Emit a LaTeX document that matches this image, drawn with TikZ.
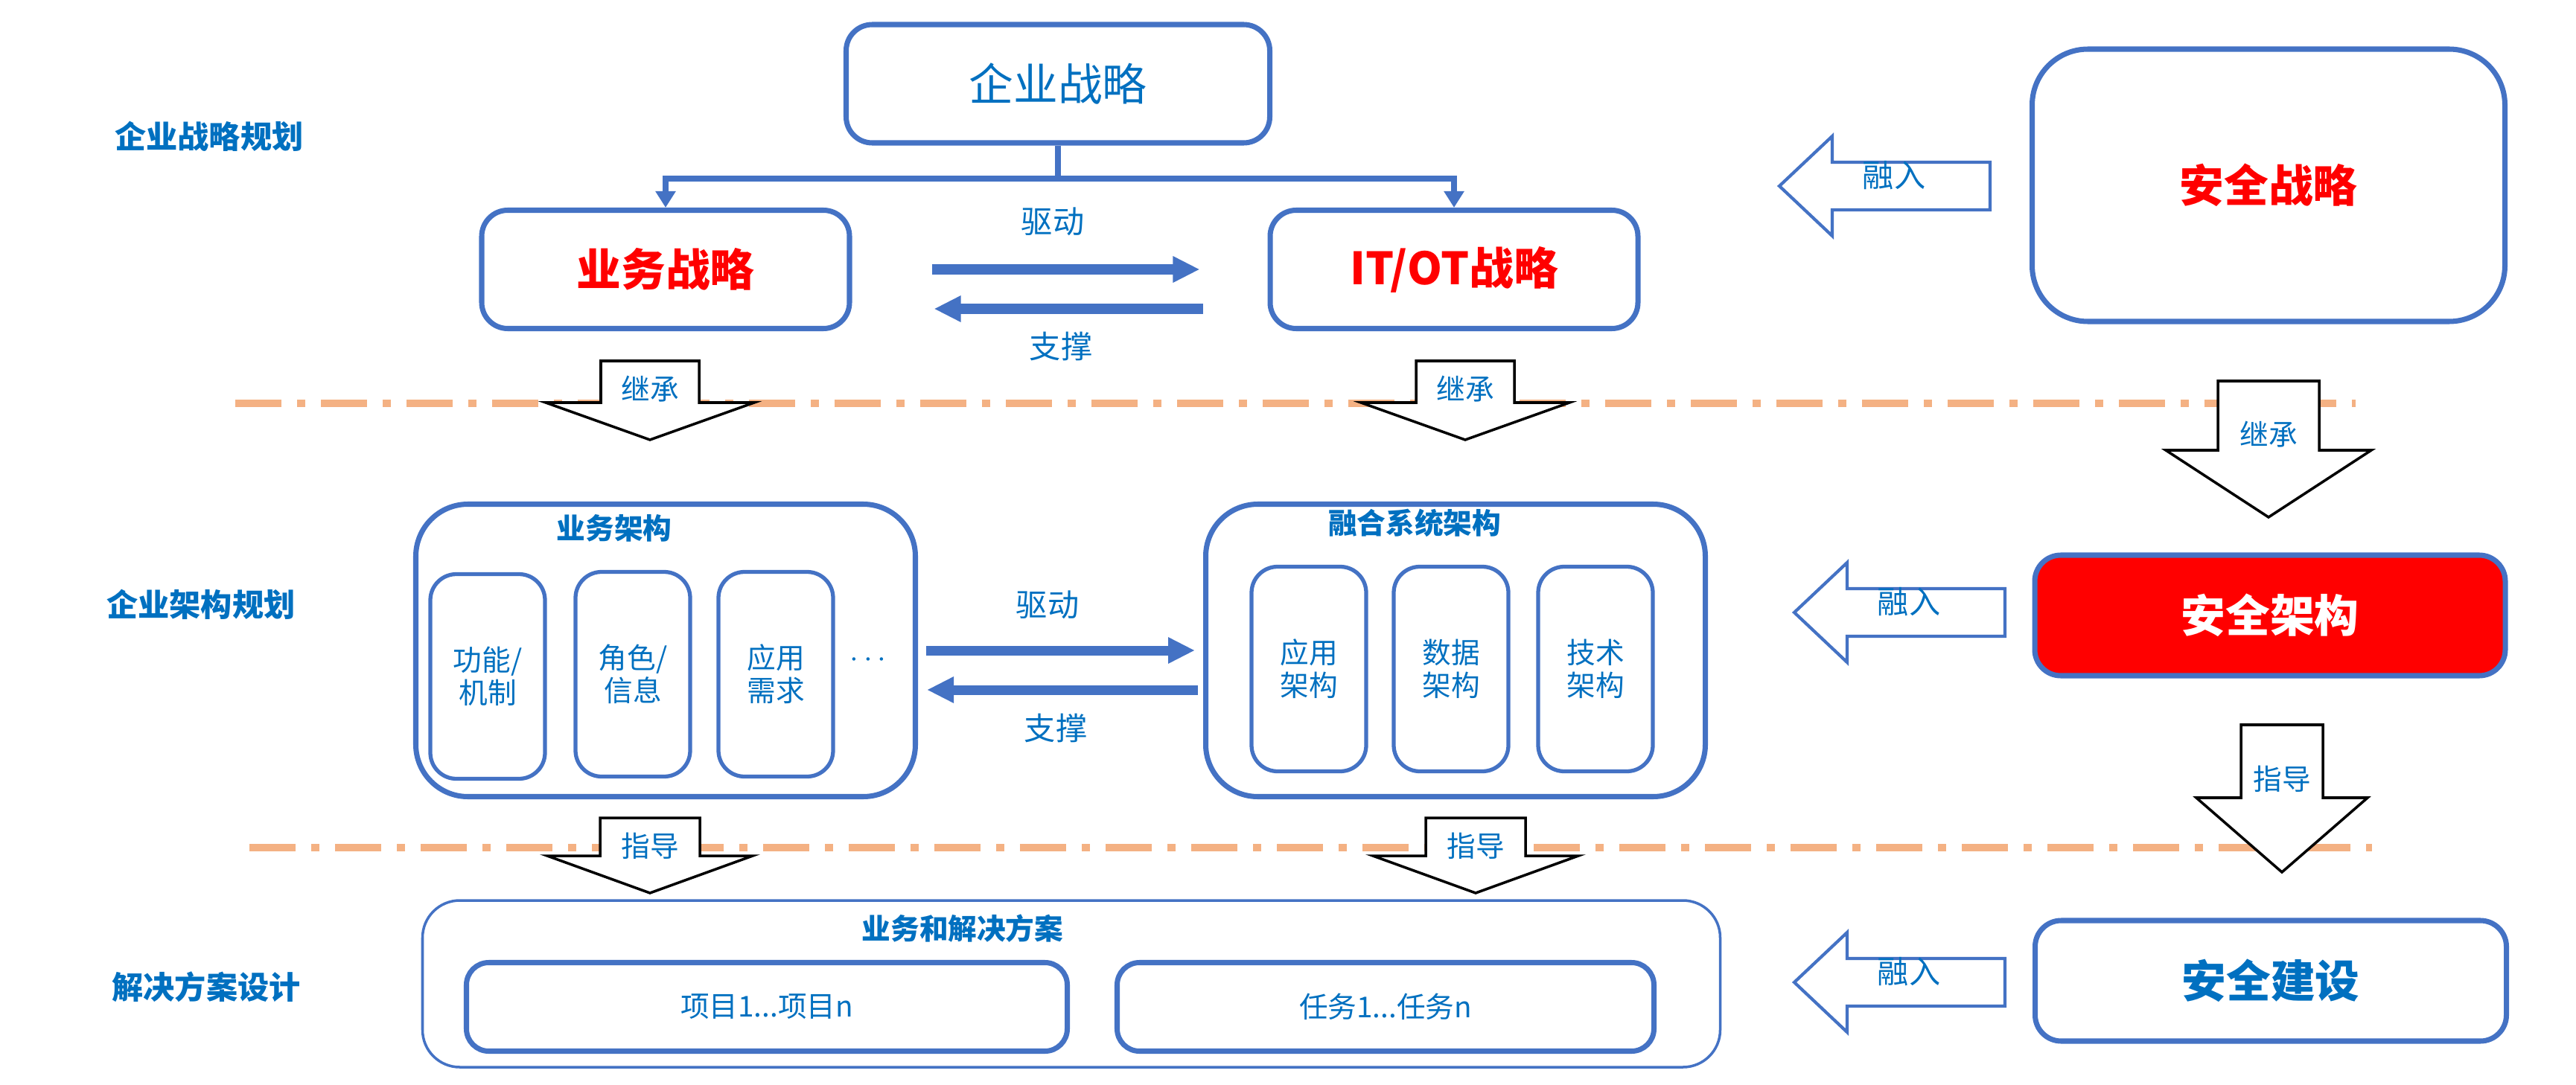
\documentclass[tikz,border=0pt]{standalone}
\usepackage{fontspec}
\setmainfont{Noto Sans CJK SC}
\usetikzlibrary{arrows.meta}

\definecolor{lineblue}{HTML}{4472C4}
\definecolor{textblue}{HTML}{0070C0}
\definecolor{sepcolor}{HTML}{F4B183}
\definecolor{hotred}{HTML}{FF0000}

\newcommand{\sz}[2]{\fontsize{#1}{#2}\selectfont}

% down block arrow: name, x, top, neck, tip, half shaft, half head, label y, label
\newcommand{\downblock}[9]{%
  \draw[blockarrow] (#2-#6,#3) -- (#2+#6,#3) -- (#2+#6,#4) -- (#2+#7,#4) -- (#2,#5)
    -- (#2-#7,#4) -- (#2-#6,#4) -- cycle;
  \node[arrowlabel] (#1) at (#2,#8) {#9};}

% left block arrow: name, tip x, y, label
\newcommand{\leftblock}[4]{%
  \draw[mergearrow] (#2,#3) -- (#2+0.71,#3+0.67) -- (#2+0.71,#3+0.32) -- (#2+2.83,#3+0.32)
    -- (#2+2.83,#3-0.32) -- (#2+0.71,#3-0.32) -- (#2+0.71,#3-0.67) -- cycle;
  \node[flowlabel] (#1) at (#2+1.54,#3+0.14) {#4};}

\begin{document}
\begin{tikzpicture}[
    stratbox/.style={draw=lineblue, line width=2pt, rounded corners=3.5mm, fill=white,
      text=textblue, align=center, inner sep=0pt, font=\sz{17}{20}},
    keybox/.style={stratbox, text=hotred, font=\sz{17}{20}\bfseries},
    groupbox/.style={draw=lineblue, line width=2pt, rounded corners=7mm, fill=white,
      minimum width=6.71cm, minimum height=3.93cm},
    partbox/.style={draw=lineblue, line width=1.5pt, rounded corners=3.5mm, fill=white,
      text=textblue, align=center, inner sep=0pt, font=\sz{11}{12.5},
      minimum width=1.54cm, minimum height=2.75cm},
    itembox/.style={draw=lineblue, line width=2pt, rounded corners=3mm, fill=white,
      text=textblue, inner sep=0pt, font=\sz{11}{13}, minimum height=1.19cm},
    grouptitle/.style={text=textblue, font=\sz{11}{13}\bfseries, inner sep=0pt},
    planlabel/.style={text=textblue, font=\sz{12}{14}\bfseries, inner sep=0pt},
    flowlabel/.style={text=textblue, font=\sz{12}{14}, inner sep=0pt},
    arrowlabel/.style={text=textblue, font=\sz{11}{13}, inner sep=0pt},
    conn/.style={draw=lineblue, line width=2.2pt, -{Triangle[length=2.2mm,width=2.6mm]}},
    drive/.style={draw=lineblue, line width=3.7pt, -{Triangle[length=3.6mm,width=3.3mm]}},
    sepline/.style={draw=sepcolor, line width=2.6pt,
      dash pattern=on 6.2mm off 2.1mm on 1.1mm off 2.1mm},
    blockarrow/.style={draw=black, line width=1pt, fill=white},
    mergearrow/.style={draw=lineblue, line width=1.2pt, fill=white}
  ]
  \useasboundingbox (0,0) rectangle (34.6,-14.58);

  % layer labels
  \node[planlabel] (plan1) at (2.81,-1.83) {企业战略规划};
  \node[planlabel] (plan2) at (2.70,-8.12) {企业架构规划};
  \node[planlabel] (plan3) at (2.77,-13.26) {解决方案设计};

  % separators
  \coordinate (sepa) at (3.16,-5.42);
  \coordinate (sepb) at (31.64,-5.42);
  \coordinate (sepc) at (3.35,-11.39);
  \coordinate (sepd) at (31.86,-11.39);
  \draw[sepline] (sepa) -- (sepb);
  \draw[sepline] (sepc) -- (sepd);

  % strategy level
  \node[stratbox, minimum width=5.69cm, minimum height=1.59cm] (strat) at (14.21,-1.125) {企业战略};
  \node[keybox, minimum width=4.94cm, minimum height=1.59cm] (bizstrat) at (8.94,-3.62) {业务战略};
  \node[keybox, minimum width=4.94cm, minimum height=1.59cm] (itstrat) at (19.53,-3.62) {IT/OT战略};
  \coordinate (split) at (14.21,-2.40);
  \draw[conn] (strat.south) -- (split) -| (bizstrat.north);
  \draw[conn] (split) -| (itstrat.north);
  \draw[drive, shorten <=1.07cm, shorten >=0.91cm] (bizstrat.east) -- (itstrat.west);
  \draw[drive, shorten <=0.87cm, shorten >=1.10cm] ([yshift=-5.3mm]itstrat.west) -- ([yshift=-5.3mm]bizstrat.east);
  \node[flowlabel] (drive1) at (14.14,-2.98) {驱动};
  \node[flowlabel] (support1) at (14.25,-4.65) {支撑};

  % architecture level
  \node[groupbox] (bizarch) at (8.94,-8.74) {};
  \node[grouptitle] (bizarchtitle) at (8.25,-7.10) {业务架构};
  \node[partbox] (func) at (6.55,-9.09) {功能/\\机制};
  \node[partbox] (role) at (8.50,-9.06) {角色/\\信息};
  \node[partbox] (need) at (10.42,-9.06) {应用\\需求};
  \node[text=textblue, inner sep=0pt, font=\sz{12}{14}] (more) at (11.66,-8.87) {$\cdots$};

  \node[groupbox] (fusion) at (19.55,-8.74) {};
  \node[grouptitle] (fusiontitle) at (19.00,-7.03) {融合系统架构};
  \node[partbox] (apparch) at (17.58,-8.99) {应用\\架构};
  \node[partbox] (dataarch) at (19.49,-8.99) {数据\\架构};
  \node[partbox] (techarch) at (21.43,-8.99) {技术\\架构};

  \draw[drive, shorten <=0.11cm, shorten >=0.11cm] (bizarch.east) -- (fusion.west);
  \draw[drive, shorten <=0.07cm, shorten >=0.12cm] ([yshift=-5.3mm]fusion.west) -- ([yshift=-5.3mm]bizarch.east);
  \node[flowlabel] (drive2) at (14.07,-8.13) {驱动};
  \node[flowlabel] (support2) at (14.18,-9.78) {支撑};

  % solution level
  \node[groupbox, line width=1pt, rounded corners=5mm, minimum width=17.43cm, minimum height=2.24cm] (solution) at (14.39,-13.22) {};
  \node[grouptitle] (solutiontitle) at (12.93,-12.48) {业务和解决方案};
  \node[itembox, minimum width=8.07cm] (proj) at (10.30,-13.53) {项目1...项目n};
  \node[itembox, minimum width=7.21cm] (task) at (18.61,-13.53) {任务1...任务n};

  % block arrows between levels
  \downblock{inherit1}{8.73}{-4.85}{-5.41}{-5.91}{0.66}{1.40}{-5.23}{继承}
  \downblock{inherit2}{19.68}{-4.85}{-5.41}{-5.91}{0.66}{1.40}{-5.23}{继承}
  \downblock{guide1}{8.73}{-10.99}{-11.50}{-12.00}{0.67}{1.38}{-11.37}{指导}
  \downblock{guide2}{19.82}{-10.99}{-11.50}{-12.00}{0.67}{1.38}{-11.37}{指导}

  % security column
  \node[keybox, rounded corners=7.5mm, minimum width=6.35cm, minimum height=3.66cm] (secstrat) at (30.47,-2.49) {安全战略};
  \node[keybox, fill=hotred, text=white, minimum width=6.32cm, minimum height=1.62cm] (secarch) at (30.49,-8.27) {安全架构};
  \node[stratbox, font=\sz{17}{20}\bfseries, minimum width=6.33cm, minimum height=1.62cm] (secbuild) at (30.50,-13.18) {安全建设};
  \downblock{inherit3}{30.47}{-5.12}{-6.05}{-6.95}{0.68}{1.38}{-5.84}{继承}
  \downblock{guide3}{30.65}{-9.74}{-10.72}{-11.72}{0.55}{1.15}{-10.47}{指导}
  \leftblock{merge1}{23.90}{-2.50}{融入}
  \leftblock{merge2}{24.10}{-8.23}{融入}
  \leftblock{merge3}{24.10}{-13.20}{融入}
\end{tikzpicture}
\end{document}
